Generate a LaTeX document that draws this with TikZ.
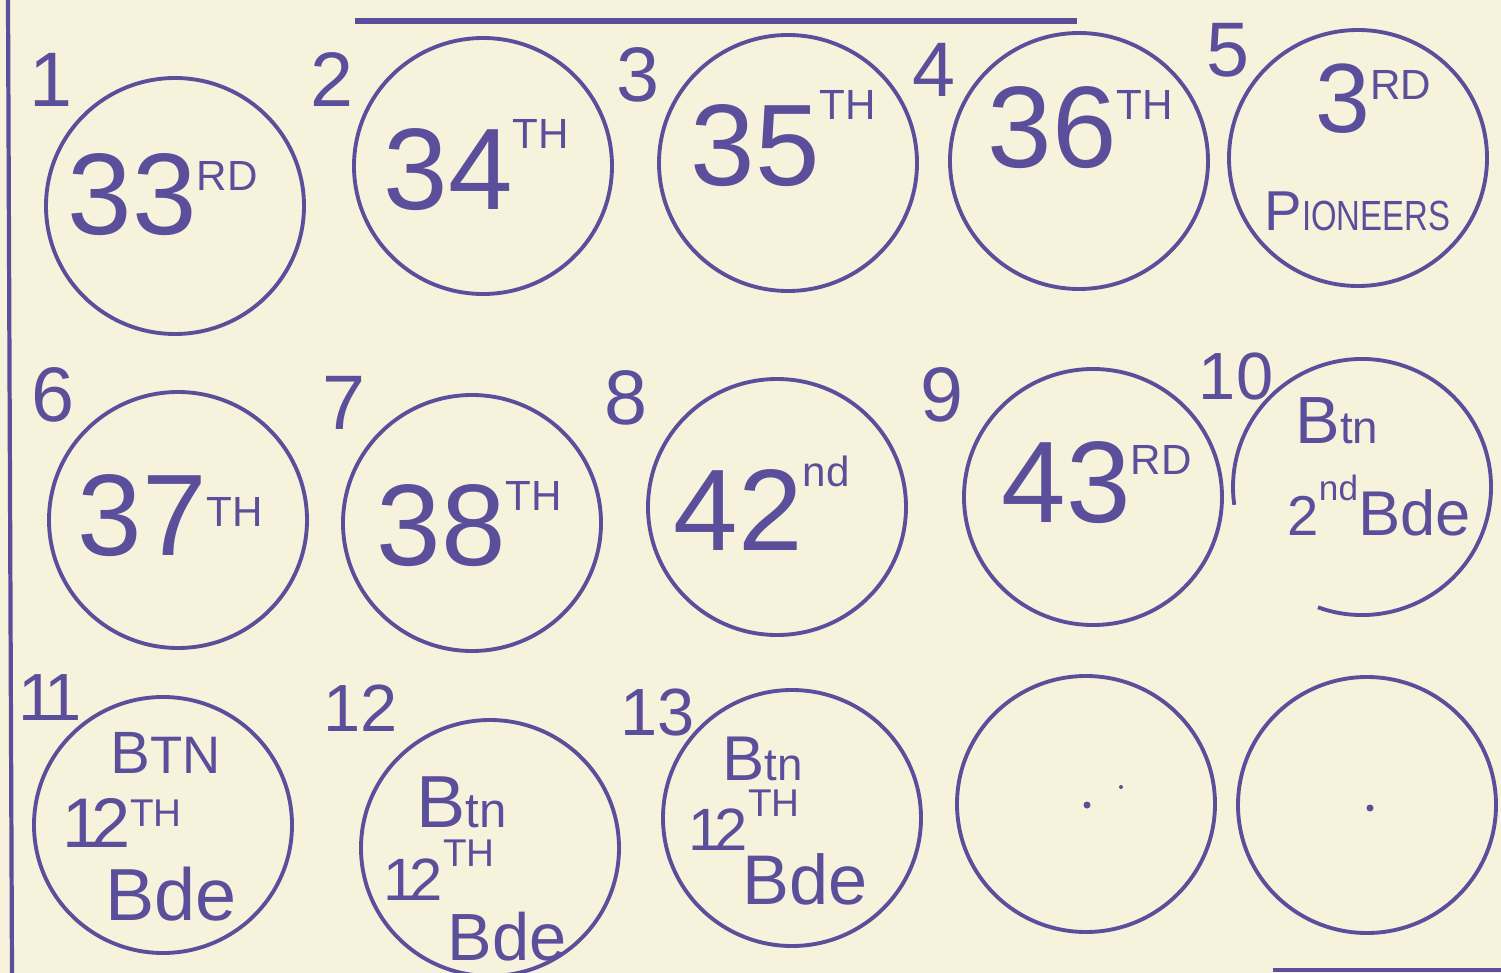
\documentclass[tikz,border=0pt]{standalone}
\usepackage{fontspec}
\setmainfont{Liberation Sans}
\usetikzlibrary{shapes.geometric}
\definecolor{ink}{HTML}{5B4F9C}
\definecolor{paper}{HTML}{F7F2DC}
\newcommand{\up}[3][12]{\raisebox{#2}{\fontsize{#1}{#1}\selectfont #3}}
\newcommand{\sm}[2]{{\fontsize{#1}{#1}\selectfont #2}}

\begin{document}
\begin{tikzpicture}[
  disc/.style={ellipse, draw=ink, line width=1.1pt, minimum width=2.58cm,
               minimum height=2.56cm, inner sep=0pt},
  num/.style={text=ink, inner sep=0pt, font=\fontsize{22}{22}\selectfont},
  num2/.style={num, font=\fontsize{19}{19}\selectfont},
  big/.style={anchor=base west, inner sep=0pt, text=ink,
              font=\fontsize{33}{33}\selectfont},
  small/.style={anchor=base west, inner sep=0pt, text=ink},
  rule/.style={ink, line width=1.6pt},
]

\fill[paper] (0,0) rectangle (15.01,-9.73);
\useasboundingbox (0,0) rectangle (15.01,-9.73);

\draw[rule] (3.55,-0.21) -- (10.77,-0.21);
\draw[rule, line width=1.2pt] (0.08,0) -- (0.12,-9.73);
\draw[rule, line width=1.2pt] (12.73,-9.70) -- (15.01,-9.70);

\node[disc] (c1) at (1.75,-2.06) {};
\node[disc] (c2) at (4.83,-1.66) {};
\node[disc] (c3) at (7.88,-1.63) {};
\node[disc] (c4) at (10.79,-1.61) {};
\node[disc] (c5) at (13.58,-1.58) {};
\node[disc] (c6) at (1.78,-5.20) {};
\node[disc] (c7) at (4.72,-5.23) {};
\node[disc] (c8) at (7.77,-5.07) {};
\node[disc] (c9) at (10.93,-4.97) {};
\coordinate (c10) at (13.62,-4.87);
\draw[ink, line width=1.1pt] (c10) ++(-110:1.29 and 1.28)
  arc[start angle=-110, end angle=188, x radius=1.29cm, y radius=1.28cm];
\node[disc] (c11) at (1.63,-8.25) {};
\node[disc] (c12) at (4.90,-8.48) {};
\node[disc] (c13) at (7.92,-8.18) {};
\node[disc] (c14) at (10.86,-8.04) {};
\node[disc] (c15) at (13.67,-8.05) {};

\fill[ink] (10.87,-8.05) circle (0.035);
\fill[ink] (11.21,-7.87) circle (0.02);
\fill[ink] (13.70,-8.08) circle (0.035);

\node[num] (n1) at (0.51,-0.80) {1};
\node[num] (n2) at (3.32,-0.80) {2};
\node[num] (n3) at (6.38,-0.75) {3};
\node[num] (n4) at (9.34,-0.70) {4};
\node[num] (n5) at (12.28,-0.50) {5};
\node[num] (n6) at (0.53,-3.95) {6};
\node[num] (n7) at (3.44,-4.03) {7};
\node[num] (n8) at (6.26,-3.98) {8};
\node[num] (n9) at (9.42,-3.95) {9};
\node[num2] (n10) at (12.36,-3.77) {10};
\node[num2] (n11) at (0.50,-6.98) {1\kern-3pt1};
\node[num2] (n12) at (3.61,-7.08) {12};
\node[num2] (n13) at (6.58,-7.13) {13};

\node[big] (t1) at (0.67,-2.35) {33\up{12.8pt}{RD}};
\node[big] (t2) at (3.83,-2.10) {34\up{17.6pt}{TH}};
\node[big] (t3) at (6.90,-1.86) {35\up{19pt}{TH}};
\node[big] (t4) at (9.87,-1.68) {36\up{13.7pt}{TH}};
\node[big, font=\fontsize{28}{28}\selectfont] (t5a) at (13.15,-1.33) {3\up{9.4pt}{RD}};
\node[small] (t5b) at (12.64,-2.30) {\sm{16}{P}\scalebox{0.78}[1]{\sm{12}{IONEERS}}};

\node[big] (t6) at (0.77,-5.55) {37\up{8pt}{TH}};
\node[big] (t7) at (3.76,-5.65) {38\up{15.6pt}{TH}};
\node[big] (t8) at (6.73,-5.50) {42\up{18pt}{nd}};
\node[big] (t9) at (10.01,-5.22) {43\up{13.4pt}{RD}};
\node[small] (t10a) at (12.95,-4.43) {\sm{19}{B}\sm{13}{tn}};
\node[small] (t10b) at (12.87,-5.35) {\sm{16}{2}\up[10]{9.7pt}{nd}\sm{18}{Bde}};

\node[small] (t11a) at (1.10,-7.73) {\sm{17}{B}\sm{15}{TN}};
\node[small] (t11b) at (0.62,-8.47) {\sm{20}{1\kern-3pt2}\up[11]{5.7pt}{TH}};
\node[small] (t11c) at (1.05,-9.20) {\sm{21}{Bde}};
\node[small] (t12a) at (4.16,-8.27) {\sm{21}{B}\sm{14}{tn}};
\node[small] (t12b) at (3.83,-9.00) {\sm{17}{1\kern-2pt2}\up[11]{9.4pt}{TH}};
\node[small] (t12c) at (4.47,-9.60) {\sm{19}{Bde}};
\node[small] (t13a) at (7.22,-7.80) {\sm{18}{B}\sm{13}{tn}};
\node[small] (t13b) at (6.88,-8.50) {\sm{17}{1\kern-2pt2}\up[11]{9.4pt}{TH}};
\node[small] (t13c) at (7.42,-9.04) {\sm{20}{Bde}};

\end{tikzpicture}
\end{document}
